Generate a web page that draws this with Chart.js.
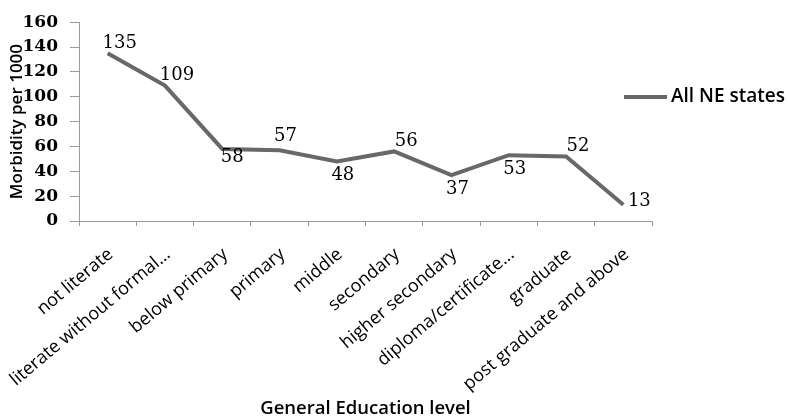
<!DOCTYPE html>
<html>
<head>
<meta charset="utf-8">
<script src="https://cdn.jsdelivr.net/npm/chart.js@4"></script>
<style>
  html, body { margin: 0; padding: 0; background: #fff; }
  #wrap { width: 788px; height: 418px; }
</style>
</head>
<body>
<div id="wrap"><canvas id="morbidityChart"></canvas></div>
<script>
// Chart data
const educationLevels = [
    'not literate',
    'literate without formal...',
    'below primary',
    'primary',
    'middle',
    'secondary',
    'higher secondary',
    'diploma/certificate...',
    'graduate',
    'post graduate and above'
];
const morbidityAllNE = [135, 109, 58, 57, 48, 56, 37, 53, 52, 13];
const yTicks = [0, 20, 40, 60, 80, 100, 120, 140, 160];

// where each value label sits relative to its point
const labelSide = ['ne', 'ne', 'se', 'n', 's', 'ne', 's', 's', 'ne', 'e'];
const sideOffset = {
    ne: [12, -10],
    se: [10, 8],
    n: [6, -14],
    s: [6, 14],
    e: [16, -4]
};

const lineColor = '#686868';
const axisColor = '#9a9a9a';
const labelAngle = -40 * Math.PI / 180;

const valueLabels = {
    id: 'valueLabels',
    afterDatasetsDraw(chart) {
        const ctx = chart.ctx;
        const meta = chart.getDatasetMeta(0);
        ctx.save();
        ctx.font = '18px "DejaVu Serif"';
        ctx.fillStyle = '#000';
        ctx.textAlign = 'center';
        ctx.textBaseline = 'middle';
        meta.data.forEach((pt, i) => {
            const off = sideOffset[labelSide[i]];
            ctx.fillText(String(chart.data.datasets[0].data[i]), pt.x + off[0], pt.y + off[1]);
        });
        ctx.restore();
    }
};

// slanted category labels, anchored at their right end under each category
const slantedLabels = {
    id: 'slantedLabels',
    afterDraw(chart) {
        const ctx = chart.ctx;
        const xScale = chart.scales.x;
        ctx.save();
        ctx.font = '18px "Open Sans"';
        ctx.fillStyle = '#000';
        ctx.textAlign = 'right';
        ctx.textBaseline = 'middle';
        chart.data.labels.forEach((lbl, i) => {
            const x = xScale.getPixelForTick(i);
            ctx.save();
            ctx.translate(x + 3, xScale.top + 31);
            ctx.rotate(labelAngle);
            ctx.fillText(lbl, 0, 0);
            ctx.restore();
        });
        ctx.restore();
    }
};

const sideLegend = {
    id: 'sideLegend',
    afterDraw(chart) {
        const ctx = chart.ctx;
        const ds = chart.data.datasets[0];
        const y = 97;
        ctx.save();
        ctx.strokeStyle = ds.borderColor;
        ctx.lineWidth = 4;
        ctx.beginPath();
        ctx.moveTo(624, y);
        ctx.lineTo(667, y);
        ctx.stroke();
        ctx.font = '600 19px "Open Sans"';
        ctx.fillStyle = '#000';
        ctx.textAlign = 'left';
        ctx.textBaseline = 'middle';
        ctx.fillText(ds.label, 671, y);
        ctx.restore();
    }
};

const ctx = document.getElementById('morbidityChart').getContext('2d');
new Chart(ctx, {
    type: 'line',
    data: {
        labels: educationLevels,
        datasets: [{
            label: 'All NE states',
            data: morbidityAllNE,
            borderColor: lineColor,
            backgroundColor: lineColor,
            borderWidth: 4,
            pointRadius: 0,
            tension: 0,
            fill: false
        }]
    },
    options: {
        responsive: true,
        maintainAspectRatio: false,
        animation: false,
        layout: { padding: { left: 0, right: 136, top: 17, bottom: 0 } },
        plugins: {
            legend: { display: false },
            tooltip: { enabled: false }
        },
        scales: {
            x: {
                offset: true,
                afterFit(scale) { scale.height = 197; },
                border: { display: true, color: axisColor, width: 1 },
                grid: { drawOnChartArea: false, drawTicks: true, tickLength: 5, color: axisColor, offset: true },
                ticks: { display: false, autoSkip: false },
                title: {
                    display: true,
                    text: 'General Education level',
                    color: '#000',
                    font: { family: 'Open Sans', size: 18.5, weight: '600' },
                    padding: { top: 0, bottom: -2 }
                }
            },
            y: {
                min: 0,
                max: 160,
                afterFit(scale) { scale.width = 79; },
                afterBuildTicks(scale) { scale.ticks = yTicks.map(v => ({ value: v })); },
                border: { display: true, color: axisColor, width: 1 },
                grid: { drawOnChartArea: false, drawTicks: true, tickLength: 9, color: axisColor },
                ticks: {
                    color: '#000',
                    font: { family: 'DejaVu Serif', size: 17, weight: 'bold' },
                    padding: 12
                },
                title: {
                    display: true,
                    text: 'Morbidity per 1000',
                    color: '#000',
                    font: { family: 'Open Sans', size: 17, weight: '600' },
                    padding: { top: 7, bottom: 0 }
                }
            }
        }
    },
    plugins: [valueLabels, slantedLabels, sideLegend]
});
</script>
</body>
</html>
